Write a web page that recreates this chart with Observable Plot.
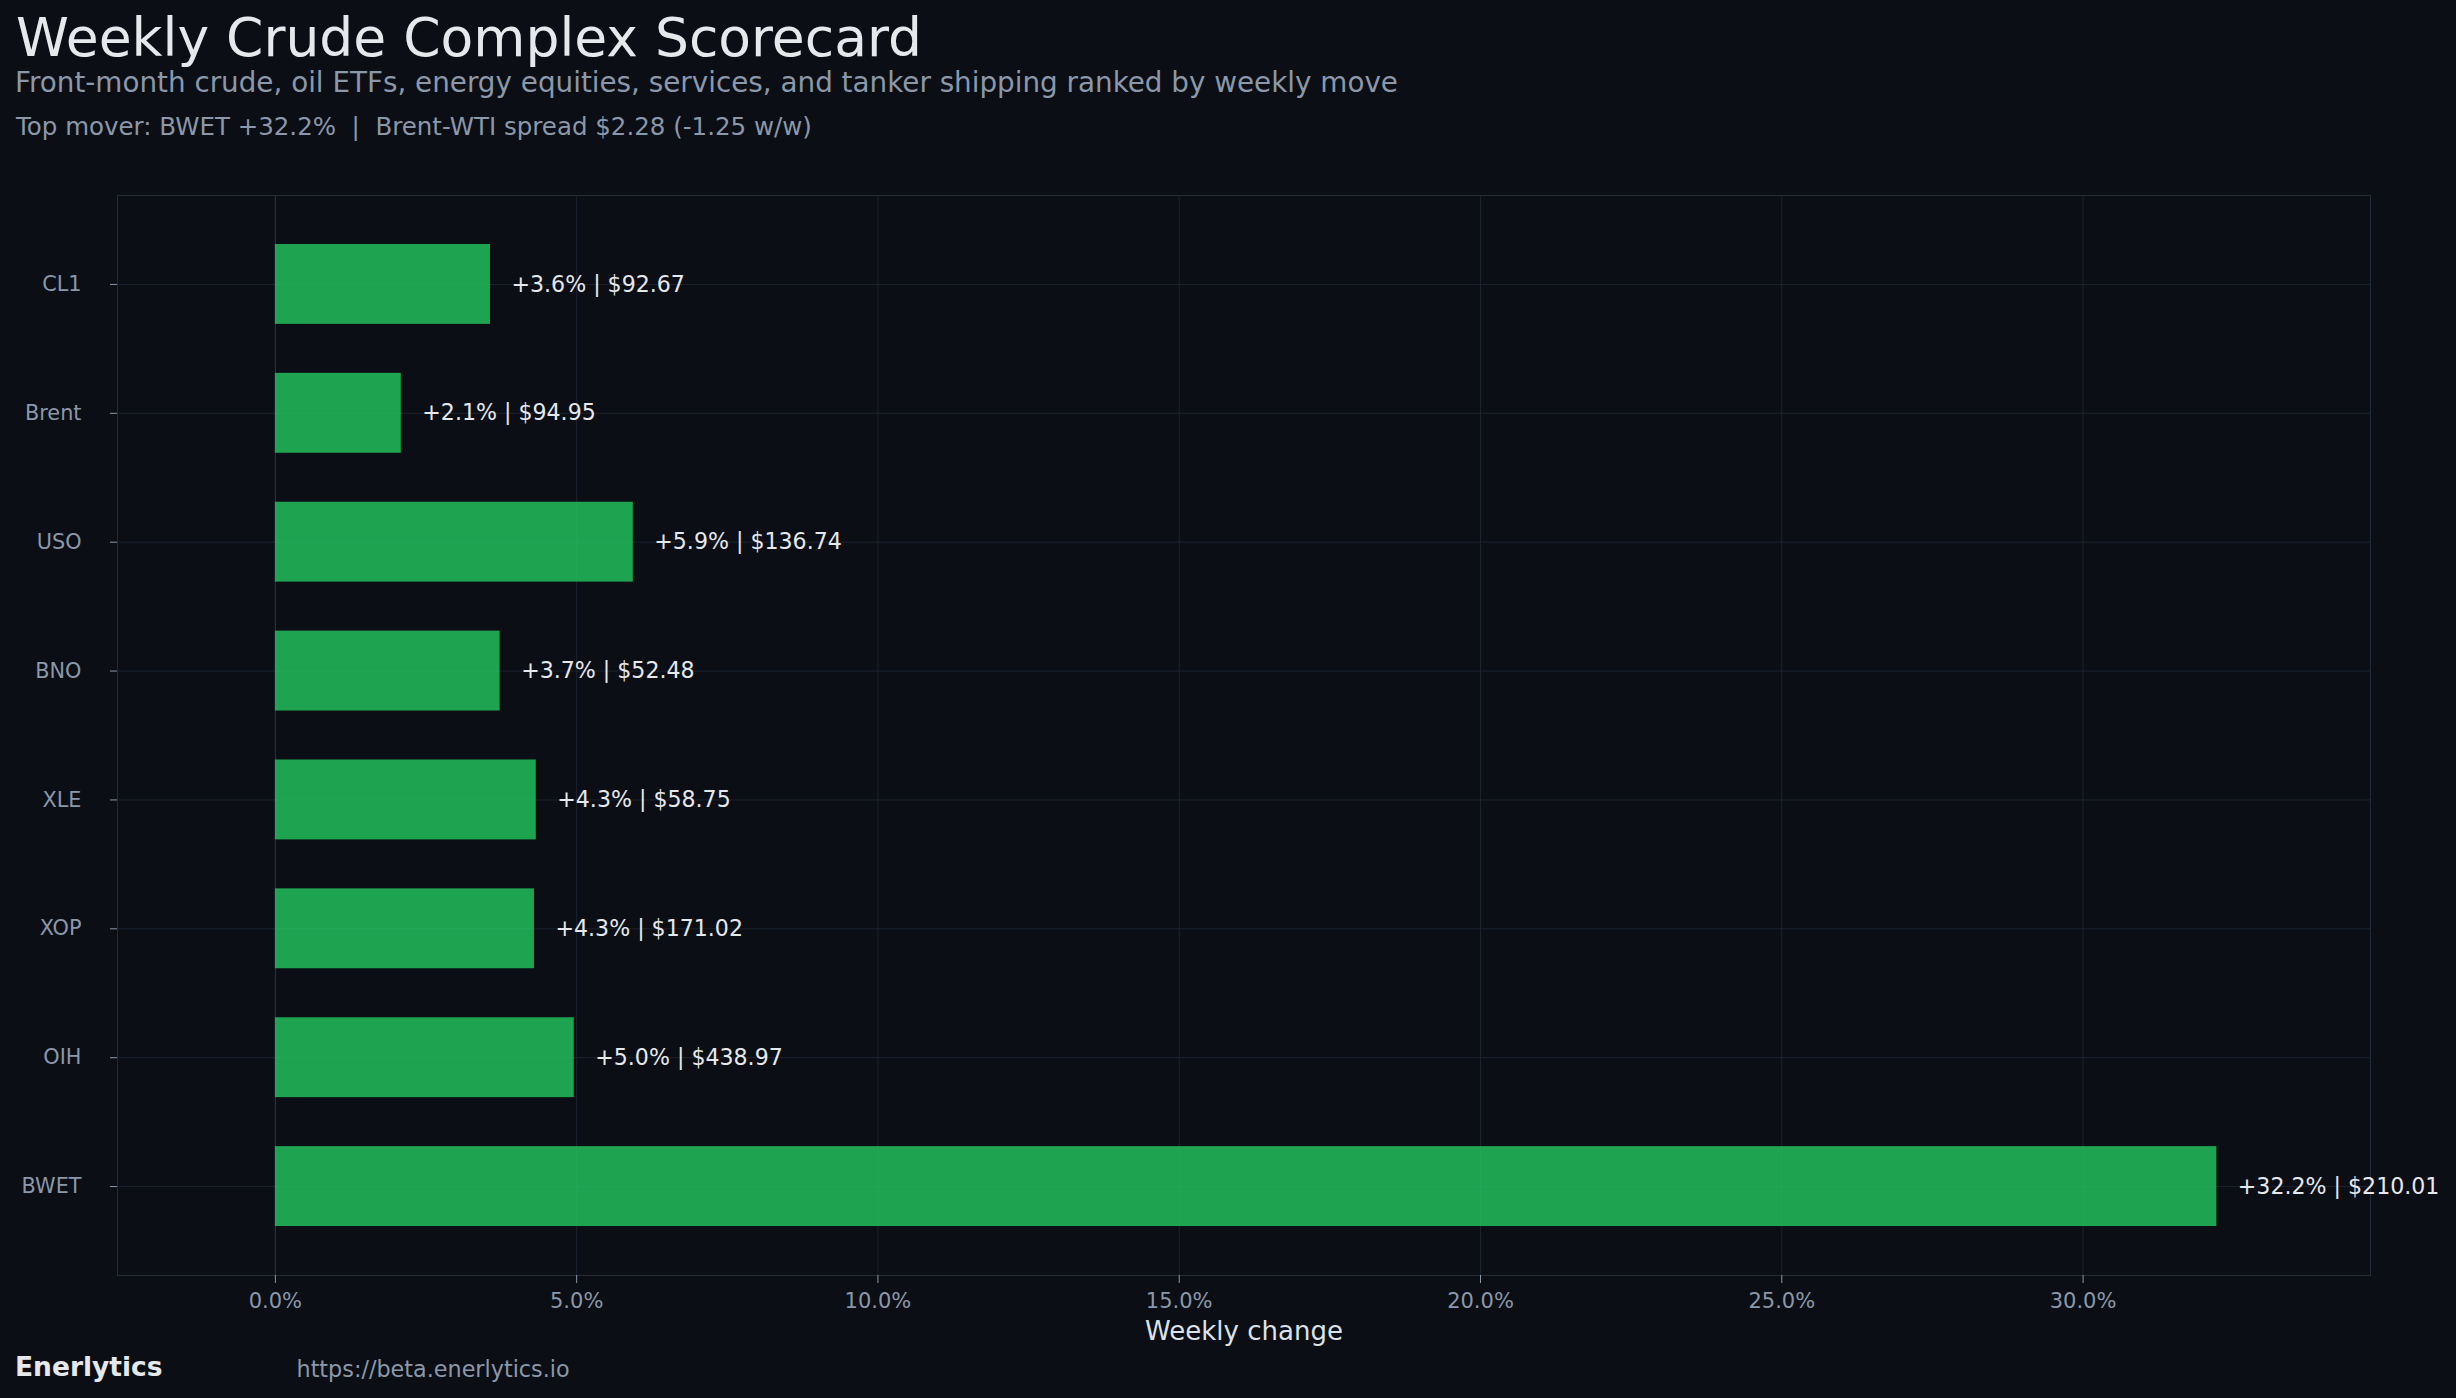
<!DOCTYPE html>
<html>
<head>
<meta charset="utf-8">
<script src="https://cdn.jsdelivr.net/npm/d3@7"></script>
<script src="https://cdn.jsdelivr.net/npm/@observablehq/plot@0.6"></script>
<style>
  html, body { margin: 0; padding: 0; }
  body { width: 2456px; height: 1398px; background: #0b0e14; position: relative; overflow: hidden; font-family: "DejaVu Sans", sans-serif; }
  .t { position: absolute; white-space: pre; }
</style>
</head>
<body>
<div class="t" style="left:16px; top:11.4px; font-size:53.5px; line-height:53.5px; color:#e6e8ec;">Weekly Crude Complex Scorecard</div>
<div class="t" style="left:15px; top:68.6px; font-size:27.8px; line-height:27.8px; color:#8b98aa;">Front-month crude, oil ETFs, energy equities, services, and tanker shipping ranked by weekly move</div>
<div class="t" style="left:16px; top:115.3px; font-size:24.5px; line-height:24.5px; color:#8b98aa;">Top mover: BWET +32.2%  |  Brent-WTI spread $2.28 (-1.25 w/w)</div>
<div id="chart" style="position:absolute; left:0; top:160px;"></div>
<div class="t" style="left:15px; top:1354.3px; font-size:26.5px; line-height:26.5px; font-weight:bold; color:#e6e8ec;">Enerlytics</div>
<div class="t" style="left:296.5px; top:1357.8px; font-size:22.3px; line-height:22.3px; color:#8b98aa;">https://beta.enerlytics.io</div>
<script>
const categories = ["CL1", "Brent", "USO", "BNO", "XLE", "XOP", "OIH", "BWET"];
const weeklyChange = [3.57, 2.09, 5.94, 3.73, 4.33, 4.30, 4.96, 32.22]; // percent
const lastPrice = [92.67, 94.95, 136.74, 52.48, 58.75, 171.02, 438.97, 210.01];
const xTicks = [0, 5, 10, 15, 20, 25, 30];
const xDomain = [-2.62, 34.77];

const data = categories.map((c, i) => ({cat: c, change: weeklyChange[i], price: lastPrice[i]}));

const chart = Plot.plot({
  width: 2456,
  height: 1190,
  marginLeft: 117,
  marginRight: 86,
  marginTop: 35,
  marginBottom: 75,
  style: {background: "transparent", color: "#8b98aa", fontFamily: "DejaVu Sans, sans-serif", fontSize: "20.8px"},
  x: {domain: xDomain},
  y: {domain: categories, padding: 0.38, round: false},
  marks: [
    Plot.gridX(xTicks, {stroke: "#1c2330", strokeOpacity: 1}),
    Plot.gridY({stroke: "#1c2330", strokeOpacity: 1}),
    Plot.ruleX([0], {stroke: "#2a3240", strokeOpacity: 1}),
    Plot.barX(data, {x: "change", y: "cat", fill: "#22c55e", fillOpacity: 0.82}),
    Plot.frame({stroke: "#232b38", strokeOpacity: 1}),
    Plot.axisX({ticks: xTicks, tickFormat: d => d.toFixed(1) + "%", tickSize: 8, tickPadding: 10, label: null, color: "#8b98aa", fontSize: 21}),
    Plot.axisY({tickSize: 7, tickPadding: 29, label: null, color: "#8b98aa", fontSize: 20.8}),
    Plot.text(data, {
      x: "change", y: "cat",
      text: d => `+${d.change.toFixed(1)}% | $${d.price.toFixed(2)}`,
      dx: 21, textAnchor: "start", fill: "#e6e8ec", fontSize: 22.1
    }),
    Plot.text(["Weekly change"], {frameAnchor: "bottom", lineAnchor: "top", dy: 46.5, fontSize: 26, fill: "#dde2e8"})
  ]
});
document.getElementById("chart").appendChild(chart);
</script>
</body>
</html>
